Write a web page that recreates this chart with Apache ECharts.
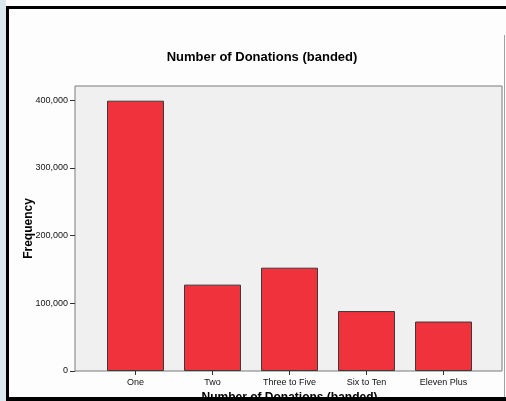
<!DOCTYPE html>
<html>
<head>
<meta charset="utf-8">
<script src="https://cdn.jsdelivr.net/npm/echarts@6/dist/echarts.min.js"></script>
<style>
  html, body { margin: 0; padding: 0; background: #fdfdfd; }
  #chart { width: 506px; height: 401px; }
</style>
</head>
<body>
<div id="chart"></div>
<script>
// categories and frequencies
var categories = ['One', 'Two', 'Three to Five', 'Six to Ten', 'Eleven Plus'];
var frequencies = [399000, 127500, 152500, 88500, 73000];
var yTicks = [0, 100000, 200000, 300000, 400000];
var yMax = 420700;

var font = 'Liberation Sans, Arial, sans-serif';

var chart = echarts.init(document.getElementById('chart'));

chart.setOption({
	animation: false,
	backgroundColor: '#fdfdfd',
	title: {
		text: 'Number of Donations (banded)',
		left: 257,
		top: 46,
		textAlign: 'center',
		textStyle: { fontFamily: font, fontSize: 13, fontWeight: 'bold', color: '#000' }
	},
	grid: [
		// plot frame with grey background
		{ left: 75, top: 86, width: 427, height: 285, outerBoundsMode: 'none', containLabel: false, show: true, backgroundColor: '#f0f0f0', borderColor: '#7a7a7a', borderWidth: 1 },
		// bars sit in a narrower band inside it
		{ left: 97, top: 86, width: 385, height: 285, outerBoundsMode: 'none', containLabel: false }
	],
	xAxis: [
		{ gridIndex: 0, type: 'value', show: false, min: 0, max: 1 },
		{
			gridIndex: 1,
			type: 'category',
			data: categories,
			axisLine: { show: false },
			axisTick: { show: true, alignWithLabel: true, length: 4, lineStyle: { color: '#333' } },
			axisLabel: { fontFamily: font, fontSize: 9, color: '#111', margin: 7 },
			name: 'Number of Donations (banded)',
			nameLocation: 'middle',
			nameGap: 21,
			nameMoveOverlap: false,
			nameTextStyle: { fontFamily: font, fontSize: 12, fontWeight: 'bold', color: '#000' }
		}
	],
	yAxis: [
		{
			gridIndex: 0,
			type: 'value',
			min: 0,
			max: yMax,
			splitLine: { show: false },
			axisLine: { show: false },
			axisTick: { show: true, length: 5, customValues: yTicks, lineStyle: { color: '#333' } },
			axisLabel: {
				fontFamily: font, fontSize: 9, color: '#111', margin: 7,
				customValues: yTicks,
				formatter: function (v) { return v.toLocaleString('en-US'); }
			},
			name: 'Frequency',
			nameLocation: 'middle',
			nameRotate: 90,
			nameGap: 40,
			nameMoveOverlap: false,
			nameTextStyle: { fontFamily: font, fontSize: 12, fontWeight: 'bold', color: '#000' }
		},
		{ gridIndex: 1, type: 'value', min: 0, max: yMax, show: false }
	],
	series: [{
		type: 'bar',
		xAxisIndex: 1,
		yAxisIndex: 1,
		data: frequencies,
		barWidth: 57,
		itemStyle: { color: '#f0323c', borderColor: '#3a3a3a', borderWidth: 1 }
	}],
	graphic: [
		{ type: 'rect', z: 100, shape: { x: 0, y: 0, width: 6, height: 401 }, style: { fill: '#dbe8ed' } },
		{ type: 'line', z: 100, shape: { x1: 504.5, y1: 35, x2: 504.5, y2: 397 }, style: { stroke: '#a0a0a0', lineWidth: 1 } },
		{ type: 'rect', z: 100, shape: { x: 7.5, y: 7.5, width: 510, height: 392 }, style: { fill: null, stroke: '#000', lineWidth: 3 } },
		{ type: 'rect', z: 100, shape: { x: 6, y: 397, width: 500, height: 4 }, style: { fill: '#000' } }
	]
});
</script>
</body>
</html>
